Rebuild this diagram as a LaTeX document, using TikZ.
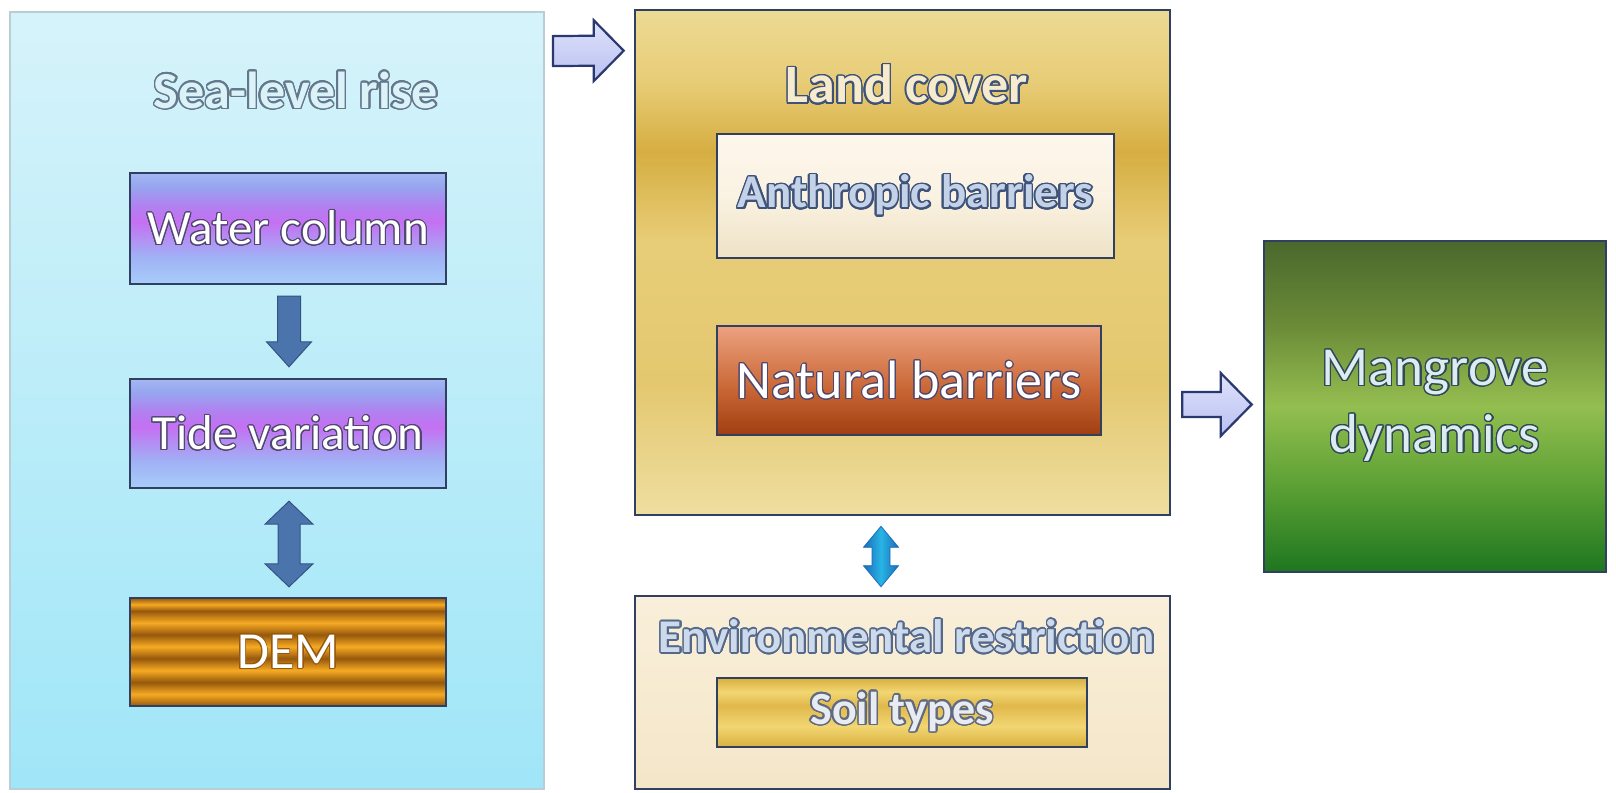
\documentclass[tikz,border=0pt]{standalone}
\usepackage{fontspec}
\setmainfont{Carlito}
\usepackage{contour}
\contournumber{24}
\usetikzlibrary{calc}

\definecolor{seaB}{RGB}{160,230,248}
\definecolor{seaT}{RGB}{214,243,250}
\definecolor{seaLine}{RGB}{185,205,212}
\definecolor{boxLine}{RGB}{48,64,96}
\definecolor{wc1}{RGB}{168,205,250}
\definecolor{wc2}{RGB}{160,178,245}
\definecolor{wc3}{RGB}{196,112,242}
\definecolor{wc4}{RGB}{178,128,240}
\definecolor{wc5}{RGB}{150,166,240}
\definecolor{wc6}{RGB}{165,182,242}
\definecolor{demO}{RGB}{246,170,35}
\definecolor{demB}{RGB}{150,88,12}
\definecolor{lc1}{RGB}{238,222,160}
\definecolor{lc2}{RGB}{228,200,112}
\definecolor{lc3}{RGB}{232,205,120}
\definecolor{lc4}{RGB}{214,174,66}
\definecolor{lc5}{RGB}{236,218,148}
\definecolor{an1}{RGB}{238,226,198}
\definecolor{an2}{RGB}{250,242,226}
\definecolor{an3}{RGB}{253,247,236}
\definecolor{na1}{RGB}{160,62,18}
\definecolor{na2}{RGB}{200,100,50}
\definecolor{na3}{RGB}{236,162,128}
\definecolor{en1}{RGB}{244,230,200}
\definecolor{en2}{RGB}{249,239,218}
\definecolor{so1}{RGB}{216,176,62}
\definecolor{so2}{RGB}{242,214,115}
\definecolor{so3}{RGB}{224,184,74}
\definecolor{mg1}{RGB}{30,118,32}
\definecolor{mg2}{RGB}{92,160,52}
\definecolor{mg3}{RGB}{148,190,80}
\definecolor{mg4}{RGB}{108,140,56}
\definecolor{mg5}{RGB}{74,104,44}
\definecolor{lavT}{RGB}{222,226,252}
\definecolor{lavB}{RGB}{186,192,240}
\definecolor{lavLine}{RGB}{42,56,110}
\definecolor{steelF}{RGB}{76,116,172}
\definecolor{steelD}{RGB}{52,82,128}
\definecolor{cyanL}{RGB}{40,180,228}
\definecolor{cyanD}{RGB}{28,108,186}
\definecolor{titleOut}{RGB}{100,120,140}
\definecolor{seaTxt}{RGB}{218,242,248}
\definecolor{landTxt}{RGB}{246,236,205}
\definecolor{anTxt}{RGB}{196,210,232}
\definecolor{anOut}{RGB}{62,82,122}
\definecolor{envTxt}{RGB}{205,218,236}
\definecolor{envOut}{RGB}{84,104,138}
\definecolor{soTxt}{RGB}{232,236,242}
\definecolor{soOut}{RGB}{96,106,128}
\definecolor{whOut}{RGB}{78,72,110}
\definecolor{mgTxt}{RGB}{222,236,242}
\definecolor{mgOut}{RGB}{46,74,88}

\pgfdeclareverticalshading{seash}{100bp}{color(0bp)=(seaB); color(25bp)=(seaB); color(75bp)=(seaT); color(100bp)=(seaT)}
\pgfdeclareverticalshading{wcsh}{100bp}{color(0bp)=(wc1); color(25bp)=(wc1); color(37bp)=(wc2); color(53bp)=(wc3); color(60bp)=(wc4); color(69bp)=(wc5); color(75bp)=(wc6); color(100bp)=(wc6)}
\pgfdeclareverticalshading{demsh}{100bp}{color(0bp)=(demB); color(25bp)=(demB); color(30.5bp)=(demO); color(36bp)=(demB); color(41.5bp)=(demO); color(47bp)=(demB); color(52.5bp)=(demO); color(58bp)=(demB); color(63.5bp)=(demO); color(69bp)=(demB); color(72bp)=(demO); color(75bp)=(demB); color(100bp)=(demB)}
\pgfdeclareverticalshading{lcsh}{100bp}{color(0bp)=(lc1); color(25bp)=(lc1); color(38bp)=(lc2); color(52bp)=(lc3); color(61bp)=(lc4); color(68bp)=(lc3); color(75bp)=(lc5); color(100bp)=(lc5)}
\pgfdeclareverticalshading{ansh}{100bp}{color(0bp)=(an1); color(25bp)=(an1); color(50bp)=(an2); color(75bp)=(an3); color(100bp)=(an3)}
\pgfdeclareverticalshading{nash}{100bp}{color(0bp)=(na1); color(25bp)=(na1); color(45bp)=(na2); color(75bp)=(na3); color(100bp)=(na3)}
\pgfdeclareverticalshading{ensh}{100bp}{color(0bp)=(en1); color(25bp)=(en1); color(75bp)=(en2); color(100bp)=(en2)}
\pgfdeclareverticalshading{sosh}{100bp}{color(0bp)=(so1); color(25bp)=(so1); color(40bp)=(so2); color(55bp)=(so3); color(65bp)=(so2); color(75bp)=(so1); color(100bp)=(so1)}
\pgfdeclareverticalshading{mgsh}{100bp}{color(0bp)=(mg1); color(25bp)=(mg1); color(38bp)=(mg2); color(50bp)=(mg3); color(62bp)=(mg4); color(75bp)=(mg5); color(100bp)=(mg5)}

% horizontal block arrow: style, start, tip, shaft half, head half, head length
\newcommand\hblockarrow[6]{%
  \path[#1] ($(#2)+(0,-#4)$) -- ($(#3)+(-#6,-#4)$) -- ($(#3)+(-#6,-#5)$) -- (#3)
    -- ($(#3)+(-#6,#5)$) -- ($(#3)+(-#6,#4)$) -- ($(#2)+(0,#4)$) -- cycle;}
% vertical down arrow
\newcommand\vdownarrow[6]{%
  \path[#1] ($(#2)+(-#4,0)$) -- ($(#3)+(-#4,-#6)$) -- ($(#3)+(-#5,-#6)$) -- (#3)
    -- ($(#3)+(#5,-#6)$) -- ($(#3)+(#4,-#6)$) -- ($(#2)+(#4,0)$) -- cycle;}
% vertical double arrow
\newcommand\vdoublearrow[6]{%
  \path[#1] (#2) -- ($(#2)+(#5,#6)$) -- ($(#2)+(#4,#6)$) -- ($(#3)+(#4,-#6)$)
    -- ($(#3)+(#5,-#6)$) -- (#3) -- ($(#3)+(-#5,-#6)$) -- ($(#3)+(-#4,-#6)$)
    -- ($(#2)+(-#4,#6)$) -- ($(#2)+(-#5,#6)$) -- cycle;}

\begin{document}
\begin{tikzpicture}[x=1pt,y=-1pt,
  panel/.style={rectangle, inner sep=0pt, draw=boxLine, line width=2.6pt},
  inner/.style={rectangle, inner sep=0pt, draw=boxLine, line width=2.4pt},
  ttl/.style={inner sep=0pt, font=\fontsize{#1}{#1}\selectfont\bfseries},
  wtxt/.style={font=\fontsize{#1}{#1}\selectfont, text=white},
  lavarrow/.style={top color=lavT, bottom color=lavB, draw=lavLine, line width=2.2pt, line join=miter},
  steelarrow/.style={fill=steelF, draw=steelD, line width=1pt, line join=miter},
  cyanarrow/.style={left color=cyanD, right color=cyanD, middle color=cyanL, draw=cyanD, line width=0.8pt, line join=miter}
]
\useasboundingbox (0,0) rectangle (1616,792);
\fill[white] (0,0) rectangle (1616,792);

% Sea-level rise panel
\node[rectangle, inner sep=0pt, draw=seaLine, line width=1.8pt, shading=seash,
      minimum width=534pt, minimum height=777pt] (sea) at (277,400.5) {};
\node[ttl=52, text=seaTxt] (seaT) at (296,91) {\contourlength{1.6pt}\contour{titleOut}{Sea-level rise}};

\node[inner, shading=wcsh, minimum width=316pt, minimum height=111pt, wtxt=49] (water) at (288,228.5)
  {\contourlength{1.1pt}\contour{whOut}{Water column}};
\node[inner, shading=wcsh, minimum width=316pt, minimum height=109pt, wtxt=49] (tide) at (288,433.5)
  {\contourlength{1.1pt}\contour{whOut}{Tide variation}};
\node[inner, shading=demsh, minimum width=316pt, minimum height=108pt, wtxt=52] (dem) at (288,652)
  {\contourlength{0.9pt}\contour{demB}{DEM}};

% Land cover panel
\node[panel, shading=lcsh, minimum width=535pt, minimum height=505pt] (land) at (902.5,262.5) {};
\node[ttl=54, text=landTxt] (landT) at (907,85) {\contourlength{1.6pt}\contour{anOut}{Land cover}};
\node[inner, shading=ansh, minimum width=397pt, minimum height=124pt, font=\fontsize{47}{47}\selectfont\bfseries, text=anTxt] (anth) at (915.5,196)
  {\contourlength{1.6pt}\contour{anOut}{Anthropic barriers}};
\node[inner, shading=nash, minimum width=384pt, minimum height=109pt, wtxt=54] (nat) at (909,380.5)
  {\contourlength{1.0pt}\contour{whOut}{Natural barriers}};

% Environmental restriction panel
\node[panel, shading=ensh, minimum width=535pt, minimum height=193pt] (env) at (902.5,692.5) {};
\node[ttl=47, text=envTxt] (envT) at (907,637) {\contourlength{1.6pt}\contour{envOut}{Environmental restriction}};
\node[inner, shading=sosh, minimum width=370pt, minimum height=69pt, font=\fontsize{46}{46}\selectfont\bfseries, text=soTxt] (soil) at (902,712.5)
  {\contourlength{1.5pt}\contour{soOut}{Soil types}};

% Mangrove dynamics
\node[panel, shading=mgsh, minimum width=342pt, minimum height=331pt, align=center,
      font=\fontsize{55}{67}\selectfont, text=mgTxt] (mang) at (1435,406.5)
  {\contourlength{1.3pt}\contour{mgOut}{Mangrove}\\\contourlength{1.3pt}\contour{mgOut}{dynamics}};

% connectors
\coordinate (a1s) at ($(water.south)+(1,11)$);
\coordinate (a1e) at ($(tide.north)+(1,-11)$);
\vdownarrow{steelarrow}{a1s}{a1e}{11.5}{22.5}{25}

\coordinate (a2s) at ($(tide.south)+(1,12)$);
\coordinate (a2e) at ($(dem.north)+(1,-10)$);
\vdoublearrow{steelarrow}{a2s}{a2e}{11}{24}{23}

\coordinate (a3s) at ($(sea.north east)+(8,40)$);
\coordinate (a3e) at ($(land.north west)+(-10,42)$);
\hblockarrow{lavarrow}{a3s}{a3e}{15}{30.5}{30}

\coordinate (a4s) at ($(land.east |- mang.west)+(11,-2)$);
\coordinate (a4e) at ($(mang.west)+(-11,-2)$);
\hblockarrow{lavarrow}{a4s}{a4e}{12.5}{31.5}{31}

\coordinate (a5s) at ($(land.south)+(-21.5,10)$);
\coordinate (a5e) at ($(env.north)+(-21.5,-8)$);
\vdoublearrow{cyanarrow}{a5s}{a5e}{9}{17.5}{21}
\end{tikzpicture}
\end{document}
